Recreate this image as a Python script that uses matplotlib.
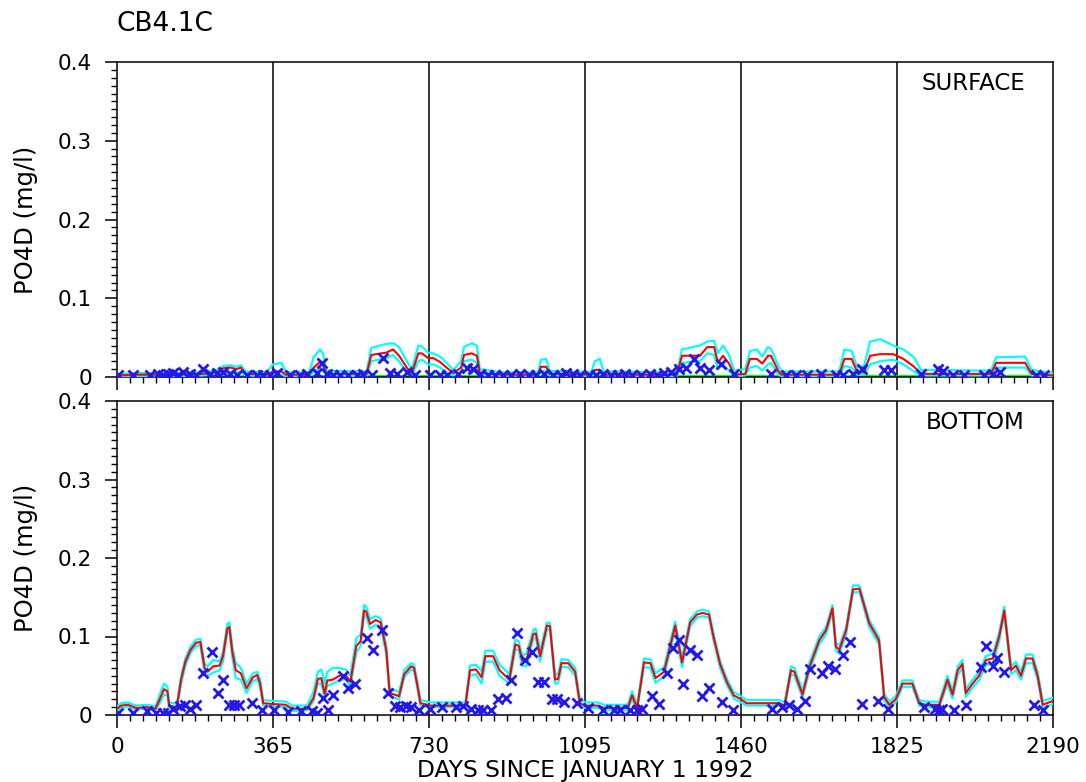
"""
PO4D time series at station CB4.1C, surface and bottom layers
"""

import numpy as np
import matplotlib
matplotlib.use("Agg")
import matplotlib.pyplot as plt

plt.rcParams['font.family'] = ['DejaVu Sans']

#############################
####### Data ################

station = "CB4.1C"
year_days = [0, 365, 730, 1095, 1460, 1825, 2190]
ytick_vals = [0, 0.1, 0.2, 0.3, 0.4]
ytick_labels = ["0", "0.1", "0.2", "0.3", "0.4"]

# surface layer: model (red) with its envelope (cyan)
top_day = [0, 50, 120, 200, 235, 248, 265, 280, 290, 300,
           350, 365, 385, 395, 450, 460, 475, 482, 490, 584,
           595, 630, 646, 660, 678, 690, 705, 713, 728, 740,
           756, 771, 787, 805, 812, 830, 842, 849, 900, 985,
           992, 1004, 1012, 1110, 1118, 1130, 1138, 1310, 1322, 1364,
           1381, 1397, 1406, 1418, 1432, 1444, 1470, 1481, 1497, 1510,
           1523, 1530, 1548, 1555, 1690, 1702, 1719, 1732, 1748, 1762,
           1786, 1816, 1840, 1865, 1881, 2045, 2057, 2125, 2140, 2190]
top_red = [.002, .003, .003, .004, .006, .011, .012, .010, .012, .004,
           .003, .007, .007, .003, .003, .012, .019, .015, .004, .004,
           .028, .031, .035, .027, .012, .005, .030, .030, .024, .024,
           .019, .012, .005, .012, .028, .030, .027, .005, .003, .003,
           .013, .013, .004, .003, .009, .009, .003, .003, .027, .027,
           .038, .038, .018, .027, .017, .003, .004, .023, .023, .017,
           .027, .027, .007, .003, .003, .023, .023, .006, .006, .027,
           .029, .029, .023, .013, .004, .004, .018, .018, .004, .002]
top_hi = [.004, .005, .005, .006, .009, .014, .015, .013, .015, .007,
          .006, .016, .018, .006, .006, .025, .035, .030, .008, .007,
          .037, .042, .043, .038, .020, .010, .040, .039, .031, .030,
          .026, .018, .009, .020, .038, .043, .040, .010, .006, .006,
          .022, .023, .008, .006, .020, .023, .007, .006, .035, .040,
          .045, .046, .030, .040, .028, .008, .010, .033, .035, .026,
          .038, .036, .014, .007, .007, .035, .033, .012, .014, .045,
          .048, .040, .035, .025, .009, .008, .025, .026, .009, .005]
top_lo = [.001, .001, .001, .002, .003, .006, .007, .006, .007, .002,
          .001, .003, .003, .001, .001, .006, .012, .009, .002, .001,
          .020, .024, .028, .020, .006, .002, .020, .022, .016, .016,
          .012, .006, .002, .006, .020, .022, .018, .002, .001, .001,
          .007, .008, .002, .001, .004, .005, .001, .001, .018, .020,
          .030, .028, .010, .016, .008, .001, .002, .012, .014, .008,
          .016, .018, .003, .001, .001, .014, .012, .003, .003, .016,
          .020, .022, .016, .007, .002, .002, .012, .012, .002, .001]
top_green_day = [0, 2190]
top_green = [0.001, 0.001]

# surface layer: observations
top_obs_day = [3, 38, 77, 97, 108, 120, 132, 143, 155, 171,
               186, 202, 218, 233, 249, 264, 280, 303, 327, 342,
               358, 374, 405, 428, 444, 467, 479, 491, 506, 522,
               541, 561, 576, 596, 623, 639, 654, 678, 697, 732,
               756, 771, 799, 818, 834, 849, 869, 884, 904, 921,
               942, 963, 980, 1000, 1021, 1038, 1051, 1067, 1083, 1104,
               1121, 1138, 1155, 1172, 1189, 1205, 1226, 1247, 1264, 1280,
               1297, 1314, 1331, 1351, 1364, 1385, 1413, 1443, 1530, 1565,
               1589, 1614, 1647, 1682, 1699, 1723, 1744, 1795, 1811, 1881,
               1920, 1933, 1957, 1982, 2029, 2050, 2066, 2150, 2170]
top_obs = [.002, .002, .003, .004, .003, .004, .005, .003, .006, .004,
           .003, .010, .004, .005, .006, .004, .003, .002, .003, .002,
           .003, .005, .002, .003, .004, .005, .018, .004, .003, .002,
           .003, .002, .004, .003, .024, .005, .004, .006, .003, .002,
           .003, .002, .004, .012, .010, .004, .003, .002, .003, .002,
           .004, .003, .003, .004, .002, .003, .005, .004, .003, .002,
           .003, .004, .002, .003, .004, .002, .003, .004, .003, .005,
           .006, .010, .011, .023, .012, .009, .016, .004, .004, .003,
           .002, .003, .004, .003, .002, .004, .010, .009, .009, .004,
           .010, .007, .003, .002, .003, .004, .006, .003, .002]

# bottom layer: model (red) with its envelope (cyan)
bot_day = [0, 10, 25, 45, 70, 90, 100, 110, 118, 122,
           140, 150, 160, 172, 185, 195, 205, 212, 225, 240,
           248, 258, 263, 270, 278, 290, 303, 318, 328, 335,
           342, 365, 395, 410, 445, 460, 470, 478, 486, 492,
           505, 520, 535, 546, 560, 570, 578, 583, 592, 605,
           617, 630, 638, 660, 672, 688, 695, 702, 710, 735,
           815, 826, 840, 853, 862, 880, 895, 918, 932, 940,
           948, 958, 974, 980, 990, 1006, 1013, 1025, 1032, 1040,
           1056, 1072, 1083, 1095, 1125, 1140, 1195, 1205, 1217, 1233,
           1248, 1260, 1280, 1294, 1306, 1322, 1341, 1357, 1370, 1385,
           1396, 1411, 1427, 1443, 1460, 1473, 1550, 1562, 1577, 1585,
           1604, 1620, 1643, 1659, 1674, 1682, 1690, 1706, 1722, 1737,
           1760, 1783, 1795, 1807, 1822, 1838, 1861, 1877, 1893, 1924,
           1943, 1955, 1967, 1978, 1986, 2002, 2017, 2033, 2049, 2064,
           2076, 2084, 2092, 2103, 2115, 2127, 2142, 2154, 2166, 2190]
bot_red = [.008, .012, .013, .009, .010, .008, .020, .033, .030, .012,
           .010, .045, .068, .083, .092, .093, .060, .055, .062, .063,
           .075, .110, .112, .080, .057, .053, .034, .048, .051, .040,
           .015, .014, .013, .008, .008, .022, .046, .047, .027, .044,
           .045, .050, .051, .042, .088, .094, .133, .132, .116, .121,
           .118, .083, .028, .024, .052, .062, .060, .040, .015, .012,
           .012, .057, .058, .048, .075, .075, .057, .045, .090, .088,
           .070, .070, .103, .104, .075, .114, .113, .045, .046, .066,
           .066, .055, .015, .012, .012, .009, .009, .025, .009, .067,
           .066, .047, .055, .087, .114, .067, .118, .128, .130, .128,
           .099, .065, .042, .025, .020, .015, .015, .012, .057, .055,
           .026, .061, .095, .108, .136, .087, .083, .108, .160, .161,
           .117, .095, .023, .013, .020, .040, .040, .015, .013, .013,
           .045, .026, .057, .065, .028, .040, .050, .070, .072, .100,
           .133, .095, .057, .063, .050, .072, .072, .050, .013, .018]
bot_hi = [.011, .015, .016, .012, .013, .011, .026, .040, .036, .016,
          .014, .050, .072, .087, .096, .097, .066, .062, .070, .068,
          .080, .116, .118, .086, .066, .060, .040, .053, .055, .045,
          .019, .018, .017, .012, .012, .030, .055, .058, .040, .055,
          .060, .060, .058, .050, .098, .102, .140, .138, .122, .126,
          .123, .088, .034, .029, .057, .066, .064, .045, .019, .016,
          .016, .063, .064, .056, .082, .082, .064, .052, .096, .094,
          .076, .078, .108, .110, .082, .118, .117, .052, .052, .071,
          .070, .060, .020, .016, .016, .013, .013, .030, .013, .072,
          .071, .053, .061, .093, .119, .073, .122, .132, .134, .132,
          .103, .069, .046, .029, .024, .019, .019, .016, .062, .060,
          .031, .066, .100, .112, .140, .092, .088, .112, .165, .165,
          .121, .099, .027, .017, .024, .044, .044, .019, .017, .017,
          .050, .031, .062, .070, .033, .045, .055, .075, .078, .105,
          .138, .100, .062, .068, .055, .077, .077, .055, .018, .022]
bot_lo = [.006, .009, .010, .007, .008, .006, .015, .026, .025, .009,
          .008, .040, .063, .079, .088, .089, .052, .050, .054, .057,
          .068, .104, .106, .072, .047, .045, .028, .043, .046, .034,
          .012, .011, .010, .005, .006, .018, .040, .040, .022, .037,
          .040, .044, .046, .036, .080, .088, .127, .126, .110, .115,
          .112, .077, .024, .020, .048, .058, .056, .036, .012, .010,
          .010, .050, .052, .040, .068, .068, .050, .040, .084, .082,
          .063, .062, .097, .098, .068, .109, .108, .040, .040, .061,
          .061, .050, .011, .009, .009, .006, .006, .020, .006, .061,
          .060, .041, .049, .081, .109, .061, .113, .124, .126, .124,
          .094, .060, .038, .021, .016, .012, .012, .009, .052, .050,
          .022, .056, .090, .103, .131, .082, .078, .103, .156, .157,
          .112, .090, .019, .010, .016, .036, .036, .012, .010, .010,
          .040, .021, .051, .060, .023, .035, .044, .064, .065, .094,
          .128, .089, .052, .057, .045, .066, .066, .045, .009, .014]

# bottom layer: observations
bot_obs_day = [2, 38, 70, 92, 108, 119, 131, 147, 159, 170,
               186, 202, 222, 237, 248, 262, 274, 286, 315, 340,
               367, 399, 430, 457, 469, 482, 494, 505, 529, 541,
               557, 584, 600, 619, 634, 650, 661, 677, 688, 707,
               732, 761, 794, 810, 829, 845, 857, 876, 891, 911,
               922, 936, 955, 971, 986, 998, 1018, 1029, 1045, 1076,
               1103, 1138, 1162, 1177, 1201, 1216, 1228, 1252, 1268, 1287,
               1302, 1314, 1325, 1341, 1357, 1368, 1384, 1415, 1441, 1532,
               1557, 1572, 1592, 1609, 1622, 1649, 1664, 1680, 1699, 1715,
               1742, 1781, 1804, 1888, 1915, 1923, 1931, 1958, 1986, 2021,
               2033, 2049, 2060, 2076, 2146, 2166]
bot_obs = [.003, .002, .005, .003, .003, .003, .008, .011, .013, .008,
           .013, .053, .080, .028, .045, .013, .013, .013, .015, .006,
           .006, .004, .005, .005, .003, .022, .007, .025, .050, .035,
           .040, .098, .083, .108, .028, .012, .010, .012, .010, .006,
           .008, .010, .010, .011, .008, .007, .007, .006, .020, .022,
           .045, .104, .070, .080, .042, .042, .020, .020, .016, .015,
           .009, .007, .006, .006, .006, .006, .008, .024, .014, .053,
           .085, .096, .040, .083, .076, .024, .034, .016, .007, .008,
           .010, .013, .008, .018, .059, .054, .062, .059, .077, .093,
           .014, .018, .008, .010, .008, .006, .008, .006, .013, .061,
           .088, .063, .073, .055, .013, .006]

##### end of data #####
#############################

cyan = '#00ffff'
red = '#ff0000'
green = '#00ff00'
blue = '#2418e6'
fs_tick = 15.5
fs_name = 16.5
fs_label = 17.5

fig = plt.figure(figsize=(10.86, 7.82), dpi=100)
W, H = 1086.0, 782.0
ax_top = fig.add_axes([117 / W, 1 - 377 / H, 936 / W, 315 / H])
ax_bot = fig.add_axes([117 / W, 1 - 715 / H, 936 / W, 314 / H])

panels = [
    (ax_top, top_day, top_red, top_hi, top_lo, top_obs_day, top_obs, "SURFACE"),
    (ax_bot, bot_day, bot_red, bot_hi, bot_lo, bot_obs_day, bot_obs, "BOTTOM"),
]

for ax, day, mid, hi, lo, oday, obs, name in panels:
    if ax is ax_top:
        ax.plot(top_green_day, top_green, color=green, lw=1.6, zorder=2)
    ax.plot(day, lo, color=cyan, lw=1.6, zorder=3)
    ax.plot(day, hi, color=cyan, lw=1.6, zorder=3)
    ax.plot(day, mid, color=red, lw=1.5, zorder=4)
    ax.plot(oday, obs, ls='none', marker='x', ms=7.5, mew=2.0, color=blue, zorder=5)

    # year separators
    for d in year_days[1:-1]:
        ax.axvline(d, color='k', lw=1.1, zorder=1)

    ax.set_xlim(0, 2190)
    ax.set_ylim(0, 0.4)
    ax.set_xticks(year_days)
    ax.set_xticks(np.arange(0, 2190, 365 / 12), minor=True)
    ax.set_yticks(ytick_vals)
    ax.set_yticklabels(ytick_labels)
    ax.set_yticks(np.arange(0, 0.4, 0.01), minor=True)
    ax.tick_params(which='major', direction='out', length=9, width=1.1,
                   labelsize=fs_tick, color='k')
    ax.tick_params(which='minor', direction='out', length=4.3, width=1.0, color='k')
    ax.tick_params(axis='y', which='major', pad=9)
    ax.tick_params(axis='x', which='major', pad=7)
    for sp in ax.spines.values():
        sp.set_linewidth(1.1)
        sp.set_color('k')

    ax.text(0.970, 0.932, name, transform=ax.transAxes, ha='right', va='center',
            fontsize=fs_name)
    # y label
    yc = ax.get_position().y0 + ax.get_position().height / 2
    fig.text(26 / W, yc, "PO4D (mg/l)", rotation=90, ha='center', va='center',
             fontsize=fs_label)

ax_top.tick_params(axis='x', labelbottom=False)

fig.text(117 / W, 1 - 24 / H, station, ha='left', va='center', fontsize=19)
fig.text(585 / W, 1 - 770 / H, "DAYS SINCE JANUARY 1 1992", ha='center',
         va='center', fontsize=16.8)

fig.savefig("out.png", dpi=100)
